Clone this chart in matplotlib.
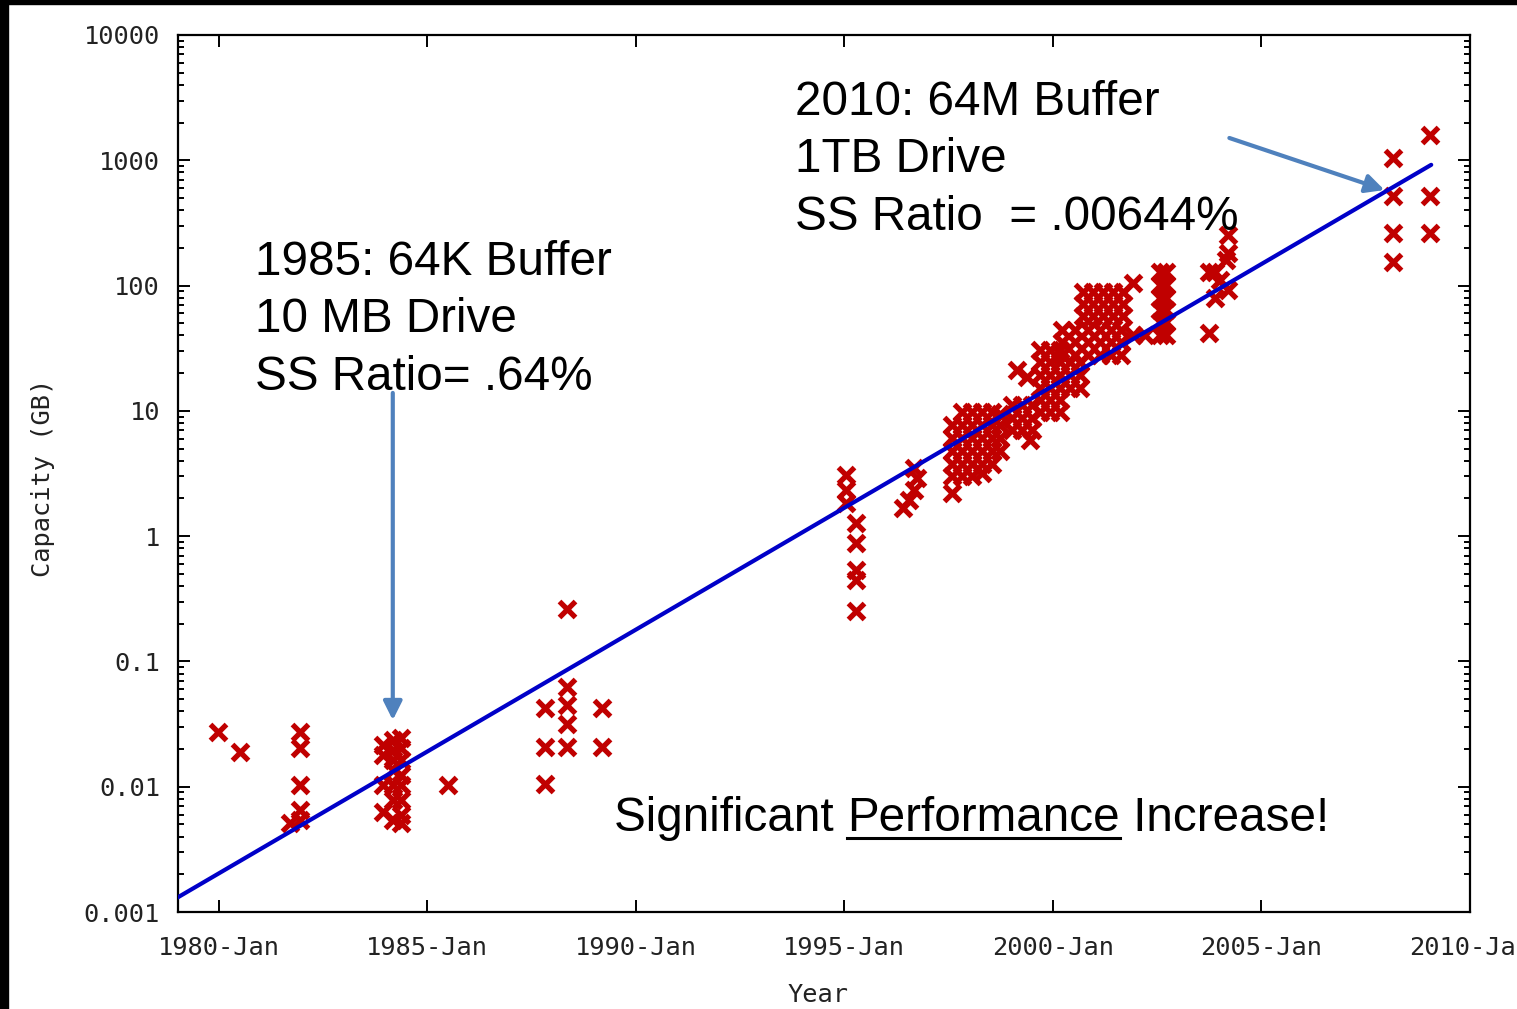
import matplotlib
matplotlib.use("Agg")
import matplotlib.pyplot as plt
from matplotlib.patches import Rectangle
from matplotlib.lines import Line2D
from matplotlib.ticker import LogLocator, NullLocator, FixedLocator, FixedFormatter

# drive capacity samples (year, GB)
years = [
    1979.98, 1980.50,
    1981.94, 1981.94, 1981.94, 1981.94, 1981.94, 1981.70,
    1983.93, 1983.93, 1983.93, 1983.93,
    1984.17, 1984.17, 1984.17, 1984.17, 1984.17, 1984.17, 1984.17,
    1984.36, 1984.36, 1984.36, 1984.36, 1984.36, 1984.36, 1984.36, 1984.36,
    1985.49,
    1987.81, 1987.81, 1987.81,
    1988.34, 1988.34, 1988.34, 1988.34, 1988.34,
    1989.18, 1989.18,
    1995.03, 1995.03, 1995.03,
    1995.27, 1995.27, 1995.27, 1995.27, 1995.27,
    1996.40, 1996.56, 1996.68, 1996.73, 1996.68,
    1997.59,
    1997.57, 1997.57, 1997.57, 1997.57, 1997.57,
    1997.81, 1997.81, 1997.81, 1997.81, 1997.81, 1997.81,
    1998.05, 1998.05, 1998.05, 1998.05, 1998.05, 1998.05,
    1998.29, 1998.29, 1998.29, 1998.29, 1998.29, 1998.29,
    1998.53, 1998.53, 1998.53, 1998.53, 1998.53,
    1998.72, 1998.72, 1998.72, 1998.72,
    1999.13, 1999.37,
    1999.01, 1999.01, 1999.01, 1999.25, 1999.25, 1999.25, 1999.49, 1999.49, 1999.49, 1999.44,
    1999.68, 1999.68, 1999.68, 1999.68, 1999.68, 1999.68,
    1999.92, 1999.92, 1999.92, 1999.92, 1999.92, 1999.92,
    2000.16, 2000.16, 2000.16, 2000.16, 2000.16, 2000.16,
    2000.40, 2000.40, 2000.40, 2000.64, 2000.64, 2000.64,
    2000.21, 2000.21, 2000.21, 2000.52, 2000.52, 2000.52, 2000.83, 2000.83, 2000.83,
    2001.12, 2001.12, 2001.12, 2001.40, 2001.40, 2001.40, 2001.64, 2001.64, 2001.64,
    2000.73, 2000.73, 2000.73, 2000.97, 2000.97, 2000.97, 2001.21, 2001.21, 2001.21,
    2001.45, 2001.45, 2001.45, 2001.69, 2001.69, 2001.69,
    2001.91,
    2002.56, 2002.56, 2002.56, 2002.56, 2002.56, 2002.56,
    2002.72, 2002.72, 2002.72, 2002.72, 2002.72, 2002.72,
    2001.91, 2002.20,
    2003.75, 2003.89, 2004.15, 2004.20, 2004.01, 2004.20, 2003.89, 2004.20, 2003.75,
    2008.16, 2008.16, 2008.16, 2008.16,
    2009.03, 2009.03, 2009.03,
]
capacity_gb = [
    0.0274, 0.0190,
    0.0274, 0.0204, 0.0103, 0.0065, 0.0054, 0.0051,
    0.0216, 0.0180, 0.0103, 0.0063,
    0.0237, 0.0197, 0.0164, 0.0136, 0.0103, 0.0078, 0.0054,
    0.0245, 0.0204, 0.0164, 0.0124, 0.0103, 0.0078, 0.0060, 0.0051,
    0.0103,
    0.0426, 0.0208, 0.0105,
    0.262, 0.0627, 0.045, 0.0317, 0.0208,
    0.0426, 0.0208,
    3.07, 2.34, 1.84,
    1.27, 0.88, 0.54, 0.45, 0.253,
    1.68, 1.95, 2.34, 2.91, 3.5,
    2.2,
    7.7, 6.1, 4.8, 3.8, 3.0,
    9.8, 7.7, 6.1, 4.8, 3.8, 3.0,
    9.8, 7.7, 6.1, 4.8, 3.8, 3.0,
    9.8, 7.7, 6.1, 4.8, 3.8, 3.2,
    9.8, 7.7, 6.1, 4.8, 3.8,
    9.5, 7.7, 6.1, 4.8,
    21.2, 18.7,
    11.1, 8.8, 7.0, 11.1, 8.8, 7.0, 11.1, 8.8, 7.0, 5.9,
    30.6, 24.5, 19.4, 15.2, 12.2, 9.8,
    30.6, 24.5, 19.4, 15.2, 12.2, 9.8,
    30.6, 24.5, 19.4, 15.2, 12.2, 9.8,
    24.5, 19.4, 15.2, 24.5, 19.4, 15.2,
    44, 35.5, 27.9, 44, 35.5, 27.9, 44, 35.5, 27.9,
    44, 35.5, 27.9, 44, 35.5, 27.9, 44, 35.5, 27.9,
    89, 71, 57, 89, 71, 57, 89, 71, 57,
    89, 71, 57, 89, 71, 57,
    105,
    128.5, 101, 80, 64, 51, 40,
    128.5, 101, 80, 64, 51, 40,
    40, 40,
    128, 128, 160, 182, 111, 92, 80, 254, 42,
    1042, 519, 263, 154,
    1592, 519, 263,
]

# exponential trend line end points
fit_years = [1979.0, 2009.07]
fit_gb = [0.0013, 920]

x_ticks = [1980, 1985, 1990, 1995, 2000, 2005, 2010]
x_labels = ["1980-Jan", "1985-Jan", "1990-Jan", "1995-Jan", "2000-Jan", "2005-Jan", "2010-Jan"]
y_ticks = [0.001, 0.01, 0.1, 1, 10, 100, 1000, 10000]
y_labels = ["0.001", "0.01", "0.1", "1", "10", "100", "1000", "10000"]

mono = "DejaVu Sans Mono"
sans = "Liberation Sans"

fig = plt.figure(figsize=(15.17, 10.09), dpi=100)
ax = fig.add_axes([178 / 1517, 1 - 912 / 1009, 1292 / 1517, 877 / 1009])

ax.plot(fit_years, fit_gb, color="#0000C8", lw=3, solid_capstyle="round", zorder=3)
ax.plot(years, capacity_gb, "x", color="#C00000", ms=11, mew=3.8, zorder=2)

ax.set_yscale("log")
ax.set_xlim(1979.02, 2010.0)
ax.set_ylim(0.001, 10000)

ax.xaxis.set_major_locator(FixedLocator(x_ticks))
ax.xaxis.set_major_formatter(FixedFormatter(x_labels))
ax.xaxis.set_minor_locator(NullLocator())
ax.yaxis.set_major_locator(FixedLocator(y_ticks))
ax.yaxis.set_major_formatter(FixedFormatter(y_labels))
ax.yaxis.set_minor_locator(LogLocator(base=10, subs=range(2, 10), numticks=20))

for s in ax.spines.values():
    s.set_linewidth(1.6)
ax.tick_params(which="both", direction="in", top=True, right=True, width=1.4)
ax.tick_params(which="major", length=8.5)
ax.tick_params(which="minor", length=4.3)
ax.tick_params(axis="y", which="major", pad=13)
ax.tick_params(axis="x", which="major", pad=17)
for lab in ax.get_xticklabels() + ax.get_yticklabels():
    lab.set_fontfamily(mono)
    lab.set_fontsize(18.3)
    lab.set_color("#222222")
ax.get_xticklabels()[-1].set_clip_on(False)

ax.set_xlabel("Year", fontfamily=mono, fontsize=18.3, color="#222222")
ax.set_ylabel("Capacity (GB)", fontfamily=mono, fontsize=18.3, color="#222222")
ax.xaxis.set_label_coords(0.495, -0.081)
ax.yaxis.set_label_coords(-0.095, 0.495)

# annotations
fig.text(255 / 1517, 1 - 240 / 1009, "1985: 64K Buffer\n10 MB Drive\nSS Ratio= .64%",
         fontfamily=sans, fontsize=34.3, va="top", ha="left", linespacing=1.35)
fig.text(795 / 1517, 1 - 80 / 1009, "2010: 64M Buffer\n1TB Drive\nSS Ratio  = .00644%",
         fontfamily=sans, fontsize=34.3, va="top", ha="left", linespacing=1.35)

t1 = fig.text(614 / 1517, 1 - 831 / 1009, "Significant ", fontfamily=sans, fontsize=34.3,
              va="baseline", ha="left")
fig.canvas.draw()
r = fig.canvas.get_renderer()
bb1 = t1.get_window_extent(r)
t2 = fig.text(bb1.x1 / 1517, 1 - 831 / 1009, "Performance", fontfamily=sans, fontsize=34.3,
              va="baseline", ha="left")
fig.canvas.draw()
bb2 = t2.get_window_extent(r)
fig.text(bb2.x1 / 1517, 1 - 831 / 1009, " Increase!", fontfamily=sans, fontsize=34.3,
         va="baseline", ha="left")
uy = 1 - 838 / 1009
fig.add_artist(Line2D([bb2.x0 / 1517, bb2.x1 / 1517], [uy, uy], color="black", lw=2.2,
                      transform=fig.transFigure))

arrow = dict(arrowstyle="-|>", color="#4F81BD", lw=3, mutation_scale=28, shrinkA=0, shrinkB=0)
ax.annotate("", xy=(1984.17, 0.034), xytext=(1984.17, 13.9), arrowprops=arrow)
ax.annotate("", xy=(2007.95, 579), xytext=(2004.23, 1507), arrowprops=arrow)

# black frame edges from the screenshot
fig.patches.append(Rectangle((0, 0), 8 / 1517, 1, transform=fig.transFigure, color="black", zorder=10))
fig.patches.append(Rectangle((0, 1 - 4 / 1009), 1, 4 / 1009, transform=fig.transFigure, color="black", zorder=10))

fig.savefig("out.png", dpi=100)
